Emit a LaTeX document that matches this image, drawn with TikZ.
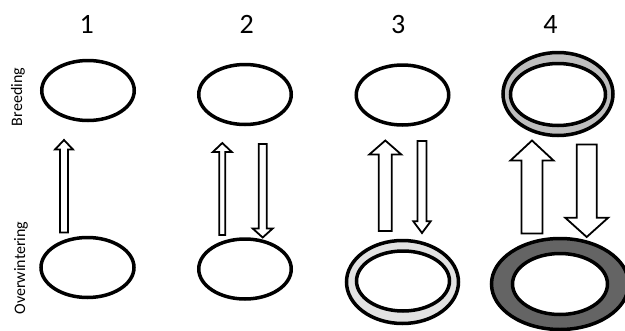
\documentclass[tikz,border=0pt]{standalone}
\usepackage{fontspec}
\setmainfont{Carlito}
\usetikzlibrary{shapes.geometric}
\newcommand{\myup}[6]{%
  \draw[barr] ({#1-#4},#3) -- ({#1-#4},{#2+#6}) -- ({#1-#5},{#2+#6}) -- (#1,#2) -- ({#1+#5},{#2+#6}) -- ({#1+#4},{#2+#6}) -- ({#1+#4},#3) -- cycle;}
\newcommand{\mydown}[6]{%
  \draw[barr] ({#1-#4},#3) -- ({#1-#4},{#2-#6}) -- ({#1-#5},{#2-#6}) -- (#1,#2) -- ({#1+#5},{#2-#6}) -- ({#1+#4},{#2-#6}) -- ({#1+#4},#3) -- cycle;}
\begin{document}
\begin{tikzpicture}[x=1pt,y=-1pt,
  ring/.style={ellipse, draw=black, line width=3.5pt, inner sep=0pt, outer sep=0pt, fill=white},
  barr/.style={draw=black, fill=white, line width=1.8pt, line join=miter},
  num/.style={font=\fontsize{28}{30}\selectfont, anchor=base, inner sep=0pt},
  side/.style={font=\fontsize{16}{18}\selectfont, rotate=90, inner sep=0pt}]
\useasboundingbox (0,0) rectangle (625,330);
\fill[white] (0,0) rectangle (625,330);
% numbers
\node[num] (n1) at (86.7,33) {1};
\node[num] (n2) at (246.7,33) {2};
\node[num] (n3) at (398.3,33) {3};
\node[num] (n4) at (550.5,33) {4};
% side labels
\node[side] (lb) at (18,97) {Breeding};
\node[side] (lo) at (21,268) {Overwintering};
% breeding
\node[ring, minimum width=92.5pt, minimum height=60pt] (b1) at (88,90.5) {};
\node[ring, minimum width=92.5pt, minimum height=60pt] (b2) at (245,94.5) {};
\node[ring, minimum width=92.5pt, minimum height=60pt] (b3) at (402.5,95) {};
\node[ring, fill={rgb,255:red,190;green,190;blue,190}, minimum width=110pt, minimum height=83pt] (b4o) at (558,94) {};
\node[ring, minimum width=95pt, minimum height=62pt] (b4) at (558,94.5) {};
% overwintering
\node[ring, minimum width=93pt, minimum height=60pt] (o1) at (87.5,267.5) {};
\node[ring, minimum width=92.5pt, minimum height=60pt] (o2) at (245,269) {};
\node[ring, fill={rgb,255:red,226;green,226;blue,226}, minimum width=112pt, minimum height=83pt] (o3o) at (402.5,282) {};
\node[ring, minimum width=93pt, minimum height=60pt] (o3) at (403,281) {};
\node[ring, fill={rgb,255:red,100;green,100;blue,100}, minimum width=137pt, minimum height=91pt] (o4o) at (560,284) {};
\node[ring, minimum width=95pt, minimum height=61pt] (o4) at (560,284) {};
% arrows
\myup{64}{140}{232.5}{4}{9}{9.5}
\myup{222.3}{143}{235}{3}{9.5}{9}
\mydown{262.7}{237.5}{144}{4}{10}{9}
\myup{385.3}{140.5}{231}{6.5}{16}{14}
\mydown{422}{233}{141}{4.5}{8.7}{11.7}
\myup{532}{140.5}{233.5}{10.5}{21.5}{20}
\mydown{586.7}{237}{144.5}{10}{21.5}{19.3}
\end{tikzpicture}
\end{document}
